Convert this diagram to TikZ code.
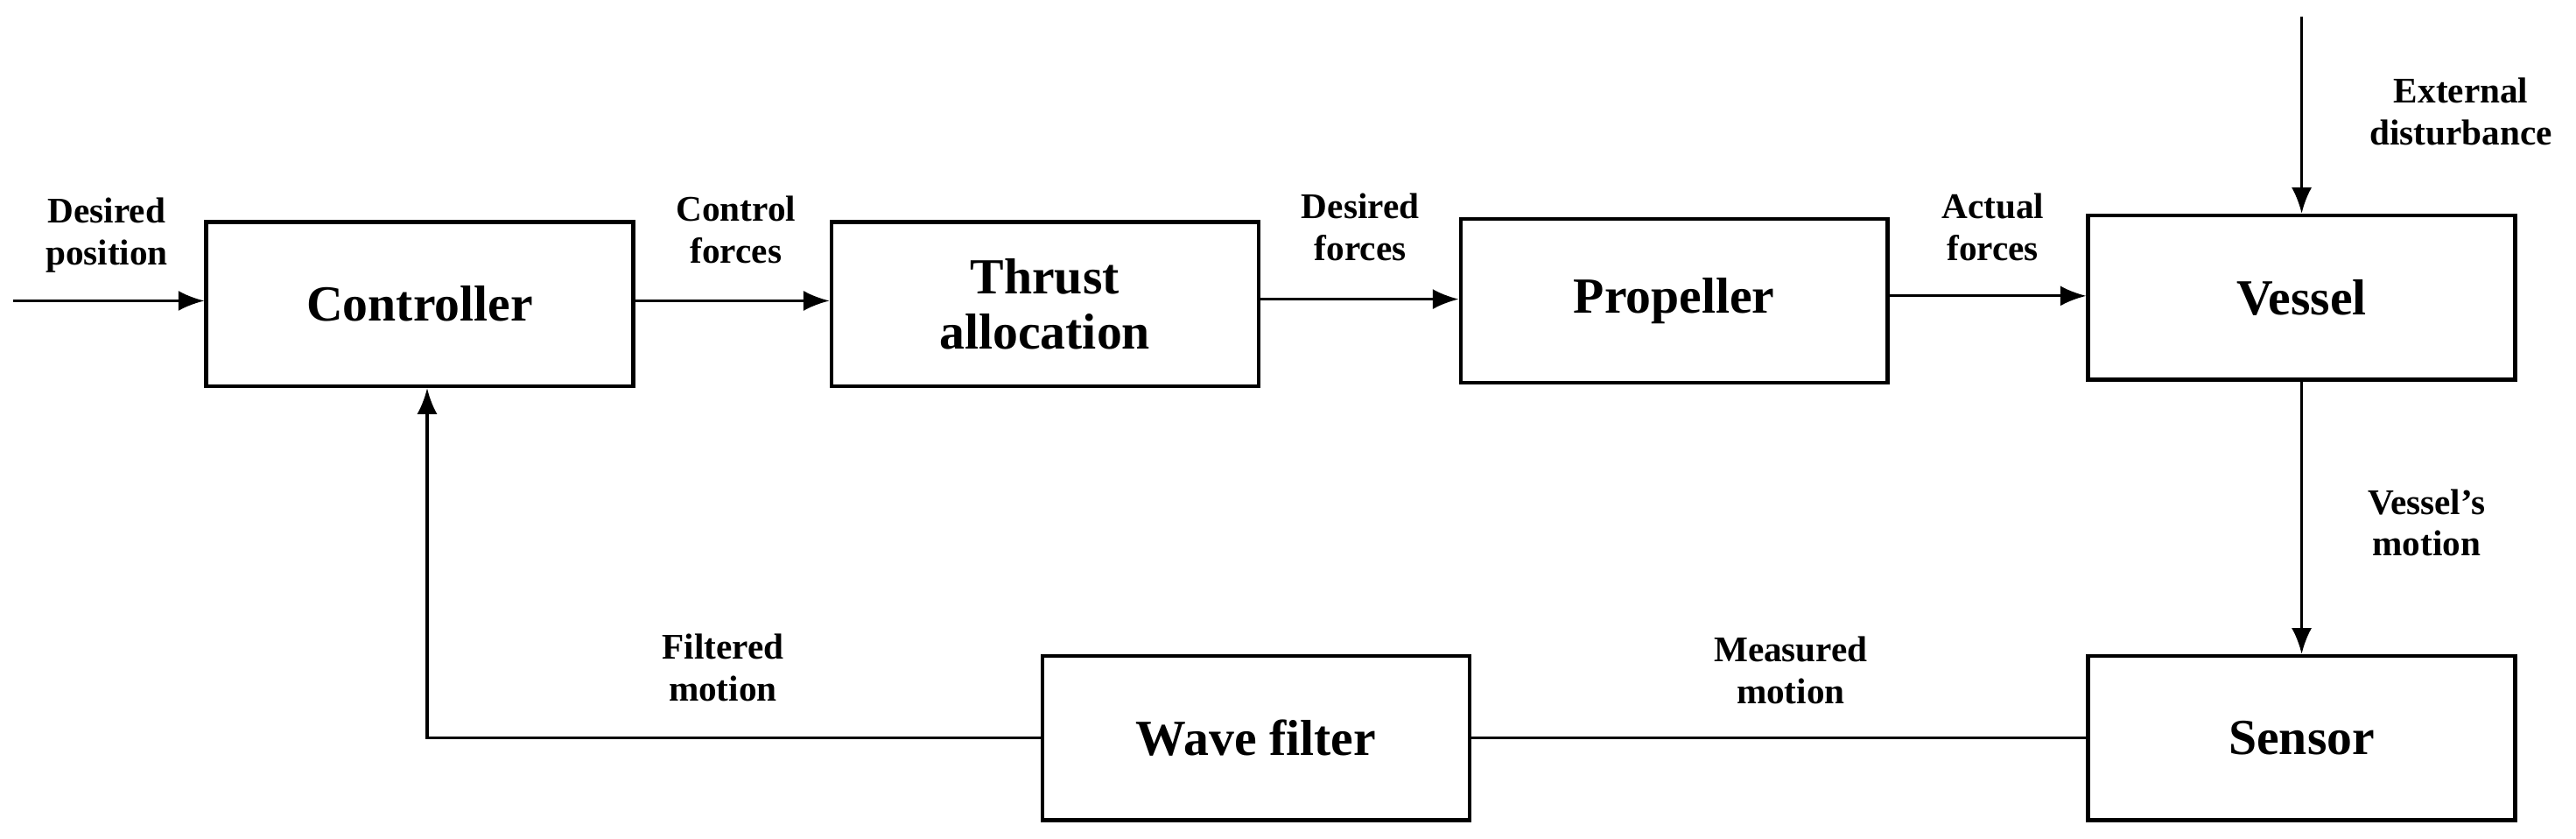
\documentclass[tikz,border=0pt]{standalone}
\usepackage{fontspec}
\setmainfont{Liberation Serif}
\usetikzlibrary{arrows.meta}
\begin{document}
\begin{tikzpicture}[x=0.02cm,y=-0.02cm,
 box/.style={draw,line width=1.3pt,minimum width=5.2cm,minimum height=2cm,align=center,font=\fontsize{17.5}{19}\selectfont\bfseries,inner sep=0pt},
 lab/.style={align=center,font=\fontsize{12.5}{14.5}\selectfont\bfseries,inner sep=0pt},
 arr/.style={line width=1pt,-{Latex[length=9pt,width=7pt]}},
 ln/.style={line width=1pt}]
\useasboundingbox (0,0) rectangle (1568,510);
\node[box] (ctrl) at (255.5,185) {Controller};
\node[box] (thr) at (636,185) {Thrust\\allocation};
\node[box] (prop) at (1019,183) {Propeller};
\node[box] (ves) at (1401,181) {Vessel};
\node[box] (sen) at (1401,449) {Sensor};
\node[box] (wf) at (764.5,449) {Wave filter};
\coordinate (in) at (8,183);
\coordinate (ext) at (1401,10);
\coordinate (corner) at (260,449);
\draw[arr] (in) -- (ctrl.west|-in);
\draw[arr] (ctrl.east|-0,183) -- (thr.west|-0,183);
\draw[arr] (thr.east|-0,182) -- (prop.west|-0,182);
\draw[arr] (prop.east|-0,180) -- (ves.west|-0,180);
\draw[arr] (ext) -- (ves.north);
\draw[arr] (ves.south) -- (sen.north);
\draw[ln] (sen.west) -- (wf.east);
\draw[arr] (wf.west) -- (corner) -- (ctrl.south-|corner);
\node[lab] at (65,143) {Desired\\position};
\node[lab] at (448,140) {Control\\forces};
\node[lab] at (828,138) {Desired\\forces};
\node[lab] at (1213,138) {Actual\\forces};
\node[lab] at (1498,68) {External\\disturbance};
\node[lab] at (1477,318) {Vessel’s\\motion};
\node[lab] at (1090,408) {Measured\\motion};
\node[lab] at (440,406) {Filtered\\motion};
\end{tikzpicture}
\end{document}
